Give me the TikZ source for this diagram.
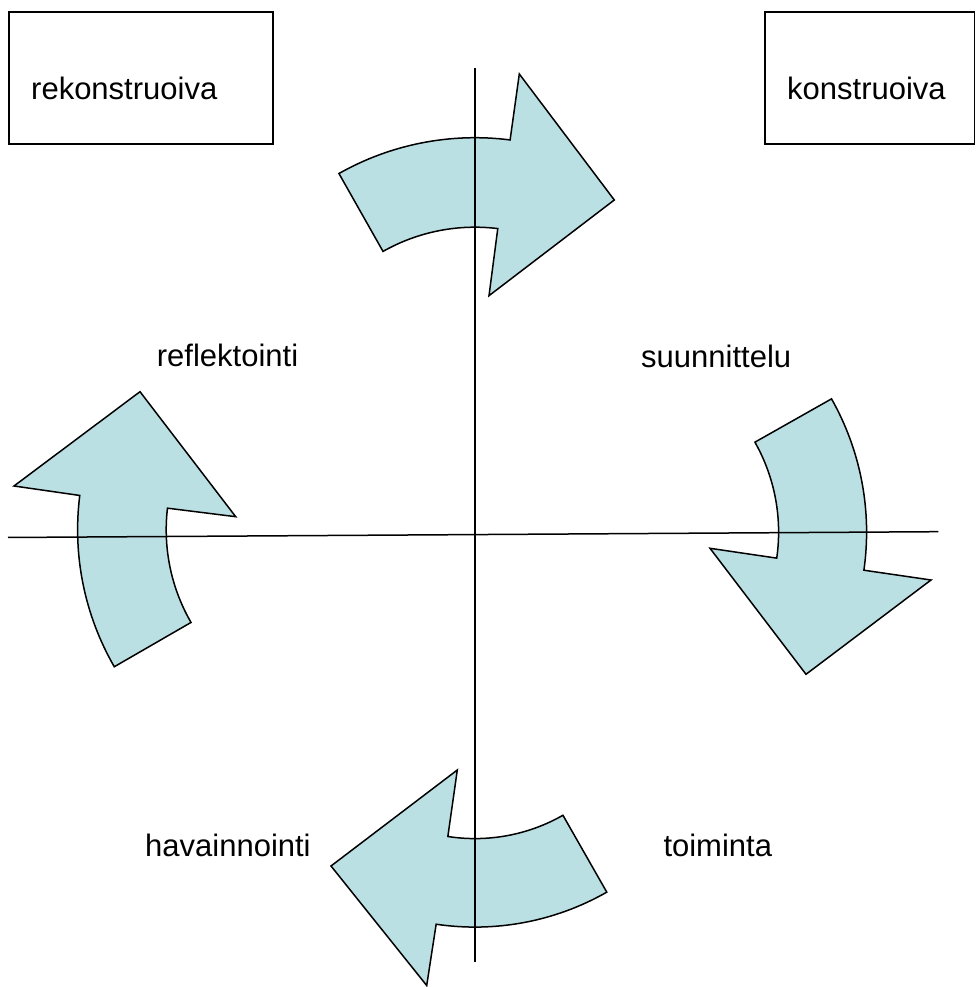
\documentclass[tikz,border=0pt]{standalone}
\usepackage{fontspec}
\setmainfont{Liberation Sans}
\usetikzlibrary{calc}
\definecolor{arrowfill}{HTML}{BBE0E3}
\begin{document}
\begin{tikzpicture}[x=1pt,y=1pt,
  arw/.style={draw=black, fill=arrowfill, line width=1.5pt, line join=miter},
  axisline/.style={draw=black, line width=1.5pt},
  boxstyle/.style={draw=black, line width=1.5pt, minimum width=264pt, minimum height=132pt, inner sep=0pt},
  lbl/.style={inner sep=0pt, anchor=base west, font=\fontsize{31}{37}\selectfont}]
\useasboundingbox (0,0) rectangle (976,987);
% boxes
\node[boxstyle] (rekbox) at (141,909) {};
\node[boxstyle, minimum width=209.5pt] (konbox) at (869.75,909) {};
\node[lbl] (rek) at (31,887) {rekonstruoiva};
\node[lbl] (kon) at (787,887) {konstruoiva};
% labels
\node[lbl] (refl) at (156.7,620.3) {reflektointi};
\node[lbl] (suun) at (641,619.7) {suunnittelu};
\node[lbl] (hava) at (145,130.3) {havainnointi};
\node[lbl] (toim) at (663.3,130.3) {toiminta};
% arrow centres
\coordinate (ct) at (475,573);
\coordinate (cr) at (596,454.9);
\coordinate (cb) at (475,325.9);
\coordinate (cl) at (351.5,457.2);
% top arrow
\path[arw] ($(ct)+(119.5:276.3)$) arc[start angle=119.5, end angle=82.7, radius=276.3]
  -- (519.3,913) -- (614.3,787) -- (489,691.3)
  -- ($(ct)+(83:186.8)$) arc[start angle=83, end angle=119.5, radius=186.8] -- cycle;
% right arrow
\path[arw] ($(cr)+(29.5:270.6)$) arc[start angle=29.5, end angle=-8.1, radius=270.6]
  -- (931,407) -- (806,312.7) -- (710,438.7)
  -- ($(cr)+(-8.2:182.6)$) arc[start angle=-8.2, end angle=29.5, radius=182.6] -- cycle;
% bottom arrow
\path[arw] ($(cb)+(-60.3:266)$) arc[start angle=-60.3, end angle=-98.4, radius=266]
  -- (426.7,1.5) -- (331,121) -- (457.3,217)
  -- ($(cb)+(-98.8:177.5)$) arc[start angle=-98.8, end angle=-60.3, radius=177.5] -- cycle;
% left arrow
\path[arw] ($(cl)+(210:273.9)$) arc[start angle=210, end angle=172.8, radius=273.9]
  -- (14,501) -- (140,595.3) -- (235.7,470.3)
  -- ($(cl)+(173.3:185.3)$) arc[start angle=173.3, end angle=210, radius=185.3] -- cycle;
% axes
\coordinate (vtop) at (475,918.7);
\coordinate (vbot) at (475,25.3);
\coordinate (hleft) at (8,449.5);
\coordinate (hright) at (938.3,455.3);
\draw[axisline] (vtop) -- (vbot);
\draw[axisline] (hleft) -- (hright);
\end{tikzpicture}
\end{document}
